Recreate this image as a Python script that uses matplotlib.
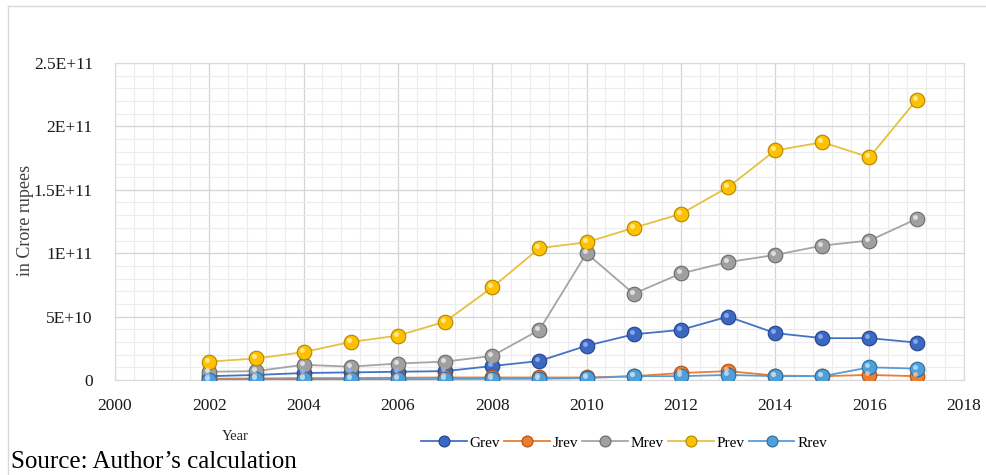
import matplotlib.pyplot as plt
from matplotlib.lines import Line2D
from matplotlib.ticker import MultipleLocator
import matplotlib.transforms as mtransforms

# revenue series, 2002-2017 (in Crore rupees)
years = list(range(2002, 2018))
grev = [3.0e9, 4.0e9, 5.5e9, 6.0e9, 6.5e9, 7.0e9, 1.1e10, 1.5e10,
        2.7e10, 3.6e10, 3.95e10, 5.0e10, 3.7e10, 3.3e10, 3.3e10, 2.95e10]
jrev = [1.0e9, 1.2e9, 1.5e9, 1.5e9, 1.8e9, 2.0e9, 2.0e9, 2.0e9,
        2.0e9, 3.0e9, 5.5e9, 7.0e9, 3.5e9, 3.0e9, 4.0e9, 3.0e9]
mrev = [6.5e9, 7.0e9, 1.2e10, 1.05e10, 1.3e10, 1.45e10, 1.9e10, 3.95e10,
        1.0e11, 6.8e10, 8.4e10, 9.3e10, 9.86e10, 1.06e11, 1.10e11, 1.27e11]
prev = [1.45e10, 1.7e10, 2.2e10, 3.0e10, 3.5e10, 4.6e10, 7.3e10, 1.04e11,
        1.086e11, 1.2e11, 1.31e11, 1.52e11, 1.81e11, 1.875e11, 1.756e11, 2.21e11]
rrev = [3.0e8, 4.0e8, 5.0e8, 6.0e8, 7.0e8, 8.0e8, 9.0e8, 1.0e9,
        1.5e9, 3.0e9, 3.0e9, 4.0e9, 3.0e9, 3.0e9, 1.0e10, 9.0e9]

series_names = ['Grev', 'Jrev', 'Mrev', 'Prev', 'Rrev']
series_values = [grev, jrev, mrev, prev, rrev]
line_colors = ['#4472C4', '#ED7D31', '#A5A5A5', '#E8C040', '#5B9BD5']
ball_colors = ['#3A68C2', '#ED7D31', '#A0A0A0', '#FFC000', '#4FA0DA']
edge_colors = ['#24428A', '#A8501A', '#6A6A6A', '#B08600', '#2D6C9E']
shine_colors = ['#8FB0EE', '#F8BE95', '#E6E6E6', '#FFF0A0', '#B5DDF8']

xticks = list(range(2000, 2019, 2))
yticks = [0, 5e10, 1e11, 1.5e11, 2e11, 2.5e11]
ytick_labels = ['0', '5E+10', '1E+11', '1.5E+11', '2E+11', '2.5E+11']

plt.rcParams['font.family'] = ['Liberation Serif', 'DejaVu Serif']

fig = plt.figure(figsize=(9.87, 4.75), dpi=100)
ax = fig.add_axes([0.1165, 0.2, 0.86, 0.6674])

# outer chart frame (top and left edges)
fig.add_artist(Line2D([8 / 987, 8 / 987], [0, 1 - 6 / 475],
                      transform=fig.transFigure, color='#d9d9d9', lw=1))
fig.add_artist(Line2D([8 / 987, 1], [1 - 6 / 475, 1 - 6 / 475],
                      transform=fig.transFigure, color='#d9d9d9', lw=1))

# small highlight offset up-left to give the markers a glossy look
shine = mtransforms.ScaledTranslation(-2 / 100, 2 / 100, fig.dpi_scale_trans)

for name, vals, lc, bc, ec, sc in zip(series_names, series_values, line_colors,
                                      ball_colors, edge_colors, shine_colors):
    ax.plot(years, vals, color=lc, lw=1.3, marker='o', markersize=10.5,
            markerfacecolor=bc, markeredgecolor=ec, markeredgewidth=0.8,
            label=name, zorder=3)
    ax.plot(years, vals, linestyle='none', marker='o', markersize=3.5,
            markerfacecolor=sc, markeredgewidth=0, alpha=0.9,
            transform=ax.transData + shine, zorder=4)

ax.set_xlim(2000, 2018)
ax.set_ylim(0, 2.5e11)
ax.set_xticks(xticks)
ax.set_yticks(yticks)
ax.set_yticklabels(ytick_labels)
ax.xaxis.set_minor_locator(MultipleLocator(0.4))
ax.yaxis.set_minor_locator(MultipleLocator(1e10))
ax.grid(True, which='major', color='#d4d4d4', lw=0.9, zorder=0)
ax.grid(True, which='minor', color='#ececec', lw=0.8, zorder=0)
ax.set_axisbelow(True)
ax.tick_params(which='both', length=0, labelsize=12.5, labelcolor='#1a1a1a')
ax.tick_params(axis='x', pad=13)
ax.tick_params(axis='y', pad=16)
for sp in ax.spines.values():
    sp.set_color('#d9d9d9')

fig.text(26 / 987, 1 - 220 / 475, 'in Crore rupees', rotation=90,
         ha='center', va='center', fontsize=13, color='#404040')
fig.text(235 / 987, 1 - 437 / 475, 'Year', ha='center', va='center',
         fontsize=10.5, color='#262626')

fig.legend(loc='center', bbox_to_anchor=(624 / 987, 1 - 443 / 475), ncol=5,
           frameon=False, fontsize=11, handlelength=3.0, columnspacing=0.25,
           handletextpad=0.2, markerscale=0.75)

fig.text(11 / 987, 1 - 462 / 475, 'Source: Author\u2019s calculation',
         ha='left', va='center', fontsize=18, color='black')

fig.savefig('out.png', dpi=100)
